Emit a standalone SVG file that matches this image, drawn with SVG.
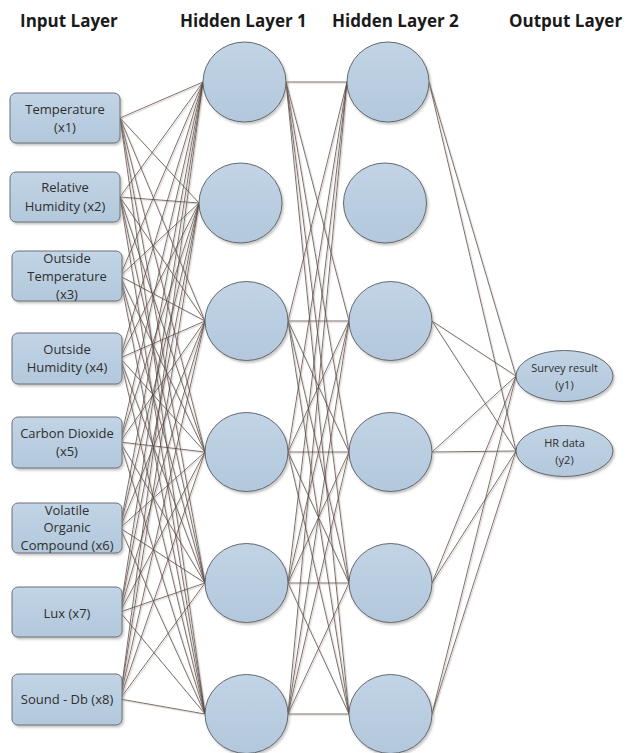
<svg xmlns="http://www.w3.org/2000/svg" width="627" height="753" viewBox="0 0 627 753">
<defs>
<linearGradient id="fill" x1="0" y1="0" x2="0" y2="1">
<stop offset="0" stop-color="#c2d4e6"/>
<stop offset="1" stop-color="#b3c8dc"/>
</linearGradient>
<filter id="sh" x="-10%" y="-10%" width="125%" height="125%">
<feDropShadow dx="1.5" dy="2" stdDeviation="1" flood-color="#8a8a8a" flood-opacity="0.5"/>
</filter>
<filter id="lsh" x="-5%" y="-5%" width="110%" height="110%">
<feDropShadow dx="1.2" dy="1.2" stdDeviation="0.3" flood-color="#bdb5b0" flood-opacity="0.8"/>
</filter>
</defs>
<style>
.title{font-family:"Open Sans","DejaVu Sans",sans-serif;font-weight:bold;font-size:17px;fill:#1a1a1a}
.lbl{font-family:"Open Sans","DejaVu Sans",sans-serif;font-size:13px;fill:#2e2e2e;text-anchor:middle}
.olbl{font-family:"Open Sans","DejaVu Sans",sans-serif;font-size:11px;fill:#2e2e2e;text-anchor:middle}
.box{fill:url(#fill);stroke:#6b7278;stroke-width:1;filter:url(#sh)}
.node{fill:url(#fill);stroke:#64686c;stroke-width:1;filter:url(#sh)}
.edge{fill:none;stroke:#5c4a43;stroke-width:0.8}
</style>
<rect width="627" height="753" fill="#ffffff"/>
<g id="titles">
<text class="title" x="20" y="27">Input Layer</text>
<text class="title" x="180" y="27">Hidden Layer 1</text>
<text class="title" x="332" y="27">Hidden Layer 2</text>
<text class="title" x="509" y="27">Output Layer</text>
</g>
<g id="connectors" class="edge" filter="url(#lsh)">
<path d="M120 118L203 82M120 118L199 203M120 118L205 321M120 118L205 452M120 118L205 583M120 118L205 714"/>
<path d="M120 197L203 82M120 197L199 203M120 197L205 321M120 197L205 452M120 197L205 583M120 197L205 714"/>
<path d="M120 276L203 82M120 276L199 203M120 276L205 321M120 276L205 452M120 276L205 583M120 276L205 714"/>
<path d="M120 358L203 82M120 358L199 203M120 358L205 321M120 358L205 452M120 358L205 583M120 358L205 714"/>
<path d="M120 442L203 82M120 442L199 203M120 442L205 321M120 442L205 452M120 442L205 583M120 442L205 714"/>
<path d="M120 528L203 82M120 528L199 203M120 528L205 321M120 528L205 452M120 528L205 583M120 528L205 714"/>
<path d="M120 612L203 82M120 612L199 203M120 612L205 321M120 612L205 452M120 612L205 583M120 612L205 714"/>
<path d="M120 699L203 82M120 699L199 203M120 699L205 321M120 699L205 452M120 699L205 583M120 699L205 714"/>
<path d="M286 82L347 82M286 82L349 321M286 82L349 452M286 82L349 583M286 82L349 714"/>
<path d="M288 321L347 82M288 321L349 321M288 321L349 452M288 321L349 583M288 321L349 714"/>
<path d="M288 452L347 82M288 452L349 321M288 452L349 452M288 452L349 583M288 452L349 714"/>
<path d="M288 583L347 82M288 583L349 321M288 583L349 452M288 583L349 583M288 583L349 714"/>
<path d="M288 714L347 82M288 714L349 321M288 714L349 452M288 714L349 583M288 714L349 714"/>
<path d="M429 82L516 376M429 82L516 451"/>
<path d="M432 321L516 376M432 321L516 451"/>
<path d="M432 452L516 376M432 452L516 451"/>
<path d="M432 583L516 376M432 583L516 451"/>
<path d="M432 714L516 376M432 714L516 451"/>
</g>
<g id="x1"><rect class="box" x="10" y="93" width="110" height="50" rx="6"/><text class="lbl" x="65" y="114">Temperature</text><text class="lbl" x="65" y="132">(x1)</text></g>
<g id="x2"><rect class="box" x="10" y="172" width="110" height="50" rx="6"/><text class="lbl" x="65" y="192">Relative</text><text class="lbl" x="65" y="211">Humidity (x2)</text></g>
<g id="x3"><rect class="box" x="12" y="251" width="110" height="50" rx="6"/><text class="lbl" x="67" y="263">Outside</text><text class="lbl" x="67" y="281">Temperature</text><text class="lbl" x="67" y="299">(x3)</text></g>
<g id="x4"><rect class="box" x="12" y="333" width="110" height="51" rx="6"/><text class="lbl" x="67" y="354">Outside</text><text class="lbl" x="67" y="372">Humidity (x4)</text></g>
<g id="x5"><rect class="box" x="12" y="417" width="110" height="51" rx="6"/><text class="lbl" x="67" y="438">Carbon Dioxide</text><text class="lbl" x="67" y="456">(x5)</text></g>
<g id="x6"><rect class="box" x="12" y="503" width="110" height="50" rx="6"/><text class="lbl" x="67" y="515">Volatile</text><text class="lbl" x="67" y="532">Organic</text><text class="lbl" x="67" y="550">Compound (x6)</text></g>
<g id="x7"><rect class="box" x="12" y="587" width="110" height="50" rx="6"/><text class="lbl" x="67" y="618">Lux (x7)</text></g>
<g id="x8"><rect class="box" x="12" y="674" width="110" height="51" rx="6"/><text class="lbl" x="67" y="704">Sound - Db (x8)</text></g>
<g id="h1_1"><ellipse class="node" cx="244.5" cy="82" rx="41.5" ry="40"/></g>
<g id="h1_2"><ellipse class="node" cx="240.5" cy="203" rx="41.5" ry="40"/></g>
<g id="h1_3"><ellipse class="node" cx="246.5" cy="321" rx="41.5" ry="39.5"/></g>
<g id="h1_4"><ellipse class="node" cx="246.5" cy="452" rx="41.5" ry="39.5"/></g>
<g id="h1_5"><ellipse class="node" cx="246.5" cy="583" rx="41.5" ry="39.5"/></g>
<g id="h1_6"><ellipse class="node" cx="246.5" cy="714" rx="41.5" ry="39.5"/></g>
<g id="h2_1"><ellipse class="node" cx="388" cy="82" rx="41" ry="40"/></g>
<g id="h2_2"><ellipse class="node" cx="385" cy="203" rx="41.5" ry="40"/></g>
<g id="h2_3"><ellipse class="node" cx="390.5" cy="321" rx="41.5" ry="39.5"/></g>
<g id="h2_4"><ellipse class="node" cx="390.5" cy="452" rx="41.5" ry="39.5"/></g>
<g id="h2_5"><ellipse class="node" cx="390.5" cy="583" rx="41.5" ry="39.5"/></g>
<g id="h2_6"><ellipse class="node" cx="390.5" cy="714" rx="41.5" ry="39.5"/></g>
<g id="y1"><ellipse class="node" cx="564.5" cy="376" rx="48.5" ry="25.5"/><text class="olbl" x="564.5" y="372">Survey result</text><text class="olbl" x="564.5" y="389">(y1)</text></g>
<g id="y2"><ellipse class="node" cx="564.5" cy="451" rx="48.5" ry="25.5"/><text class="olbl" x="564.5" y="447">HR data</text><text class="olbl" x="564.5" y="464">(y2)</text></g>
</svg>
